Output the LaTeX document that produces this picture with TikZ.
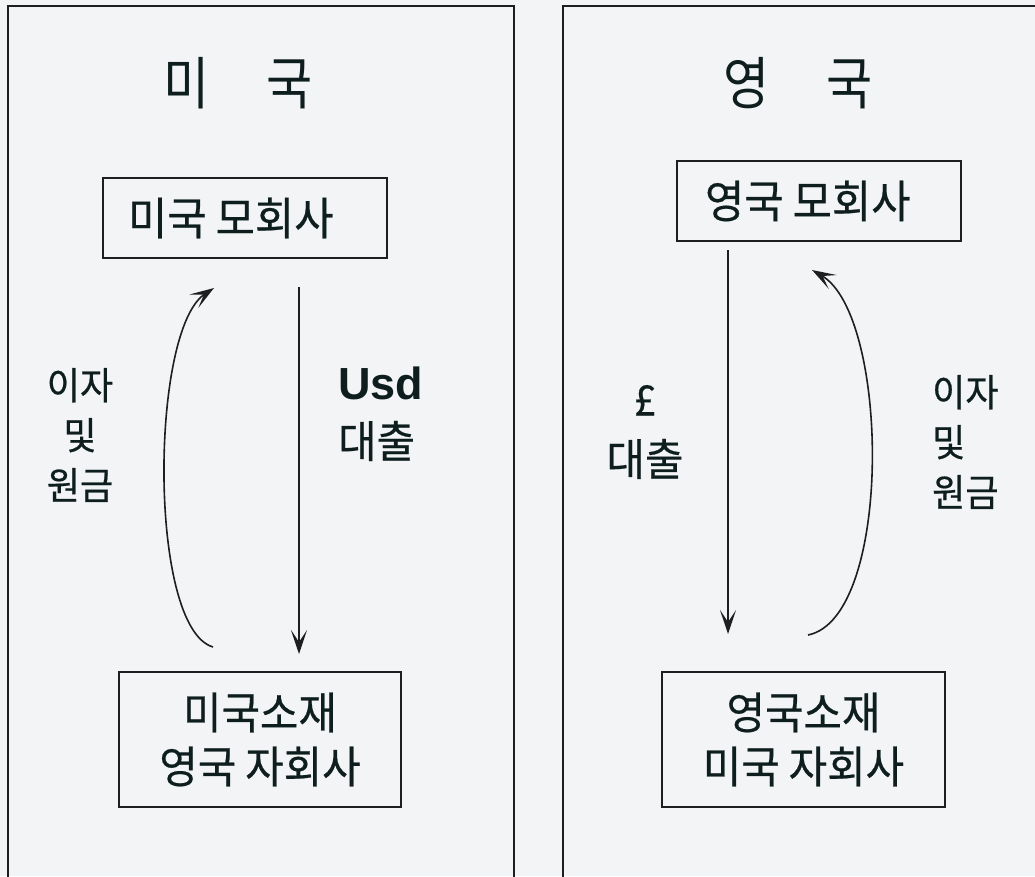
\documentclass[tikz,border=0pt]{standalone}
\usepackage{fontspec}
\setmainfont{Noto Sans CJK KR}[FakeStretch=0.95,FakeBold=0.5]
\newfontfamily\titlefont{Noto Sans CJK KR}[FakeStretch=0.88]
\newfontfamily\usdfont{Liberation Sans}[BoldFont=* Bold]
\usetikzlibrary{arrows.meta}
\definecolor{bgc}{RGB}{242,244,246}
\definecolor{inkc}{RGB}{14,30,30}
\definecolor{linec}{RGB}{30,30,30}
\tikzset{
  panel/.style={draw=linec, line width=2.2pt},
  boxnode/.style={draw=linec, line width=2pt, inner sep=0pt, text=inkc},
  title/.style={text=inkc, inner sep=0pt, font=\titlefont\fontsize{57}{60}\selectfont},
  lbl/.style={text=inkc, inner sep=0pt, font=\fontsize{38}{50}\selectfont},
  flow/.style={draw=linec, line width=1.6pt, -{Stealth[length=24pt,width=16pt,inset=12pt]}},
}
\begin{document}
\begin{tikzpicture}[x=1pt,y=-1pt]
\fill[bgc] (0,0) rectangle (1035,876);
\useasboundingbox (0,0) rectangle (1035,876);
\begin{scope}
\clip (0,0) rectangle (1035,876);
% panels
\draw[panel] (8,6) rectangle (514,884);
\draw[panel] (563,6) rectangle (1045,884);
\end{scope}
% titles
\node[title] (t1) at (238,83) {미\hspace{57pt}국};
\node[title] (t2) at (798,83) {영\hspace{57pt}국};
% top boxes
\node[boxnode, minimum width=284pt, minimum height=80pt, text width=234pt, align=left, inner xsep=25pt,
      font=\fontsize{45}{50}\selectfont] (us) at (245,218) {미국\hspace{9pt}모회사};
\node[boxnode, minimum width=284pt, minimum height=80pt, text width=228pt, align=left, inner xsep=28pt,
      font=\fontsize{45}{50}\selectfont] (uk) at (819,201) {영국\hspace{9pt}모회사};
% bottom boxes
\node[boxnode, minimum width=282pt, minimum height=135pt, align=center,
      font=\fontsize{44}{54}\selectfont] (usub) at (260,739.5) {미국소재\\영국\hspace{9pt}자회사};
\node[boxnode, minimum width=283pt, minimum height=135pt, align=center,
      font=\fontsize{44}{54}\selectfont] (uksub) at (803.5,739.5) {영국소재\\미국\hspace{9pt}자회사};
% labels
\node[lbl, align=center] (l1) at (80,435) {이자\\및\\원금};
\node[lbl, align=left, anchor=west] (l2) at (932,442) {이자\\및\\원금};
\node[text=inkc, inner sep=0pt, align=left, anchor=west, font=\fontsize{44}{58}\selectfont] (usd) at (338,414)
  {{\usdfont\bfseries\fontsize{45}{58}\selectfont Usd}\\대출};
\node[text=inkc, inner sep=0pt, align=center, font=\fontsize{44}{60}\selectfont] (gbp) at (645,432)
  {{\fontsize{42}{60}\selectfont £}\\대출};
% arrow end points
\coordinate (a1s) at (299,287);
\coordinate (a1e) at (299,654);
\coordinate (c1s) at (213,647);
\coordinate (c1e) at (214,288);
\coordinate (a2s) at (728,250);
\coordinate (a2e) at (728,634);
\coordinate (c2s) at (808,635);
\coordinate (c2e) at (812,270);
% arrows
\draw[flow] (a1s) -- (a1e);
\draw[flow] (c1s) .. controls (148,628) and (150,330) .. (c1e);
\draw[flow] (a2s) -- (a2e);
\draw[flow] (c2s) .. controls (893,618) and (890,315) .. (c2e);
\end{tikzpicture}
\end{document}
